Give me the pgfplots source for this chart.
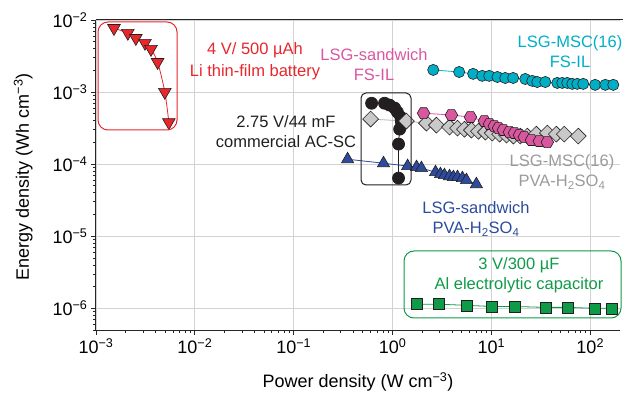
\documentclass[border=0pt]{standalone}
\usepackage{fontspec}
\setmainfont{Liberation Sans}
\usepackage{pgfplots}
\pgfplotsset{compat=1.18}

\definecolor{cRed}{HTML}{E8262C}
\definecolor{cCyan}{HTML}{00AFC6}
\definecolor{cPink}{HTML}{D8579F}
\definecolor{cGray}{HTML}{C9C9C9}
\definecolor{cGrayTxt}{HTML}{9B9B9B}
\definecolor{cBlack}{HTML}{231F20}
\definecolor{cBlue}{HTML}{2C4B9E}
\definecolor{cGreen}{HTML}{0F9A48}
\definecolor{cEdge}{HTML}{231F20}

% filled hexagon mark
\pgfdeclareplotmark{hexagon*}{%
  \pgfpathmoveto{\pgfqpointpolar{0}{\pgfplotmarksize}}%
  \pgfpathlineto{\pgfqpointpolar{60}{\pgfplotmarksize}}%
  \pgfpathlineto{\pgfqpointpolar{120}{\pgfplotmarksize}}%
  \pgfpathlineto{\pgfqpointpolar{180}{\pgfplotmarksize}}%
  \pgfpathlineto{\pgfqpointpolar{240}{\pgfplotmarksize}}%
  \pgfpathlineto{\pgfqpointpolar{300}{\pgfplotmarksize}}%
  \pgfpathclose
  \pgfusepathqfillstroke}

\begin{document}
\begin{tikzpicture}[font=\fontsize{16.5}{20}\selectfont]
\begin{axis}[
  scale only axis,
  width=524pt, height=310pt,
  xmode=log, ymode=log,
  xmin=1e-3, xmax=200,
  ymin=5e-7, ymax=1e-2,
  axis x line*=bottom, axis y line*=left,
  axis line style={line width=1pt, draw=black!85},
  tick align=outside,
  major tick length=5pt, minor tick length=3pt,
  every tick/.style={black!85, line width=0.8pt},
  grid=major,
  grid style={draw=gray!35, line width=0.8pt},
  log number format basis/.code 2 args={#1\textsuperscript{\pgfmathtruncatemacro\e{#2}\ifnum\e<0 −\number-\e\else\e\fi}},
  tick label style={font=\fontsize{18}{20}\selectfont},
  xlabel={Power density (W cm\textsuperscript{−3})},
  ylabel={Energy density (Wh cm\textsuperscript{−3})},
  label style={font=\fontsize{18}{20}\selectfont},
  xlabel style={at={(axis description cs:0.5,-0.168)}, anchor=center},
  ylabel style={at={(axis description cs:-0.139,0.494)}, anchor=center},
  clip=false,
  every axis plot/.append style={line width=0.8pt},
]
% Li thin-film battery
\addplot[cRed, smooth, mark=triangle*, mark size=7.3pt,
  mark options={rotate=180, fill=cRed, draw=cEdge, line width=0.6pt}] coordinates {
  (1.52e-3,7.7e-3) (2.1e-3,6.6e-3) (2.53e-3,5.6e-3) (3.13e-3,4.8e-3)
  (3.6e-3,3.95e-3) (4.2e-3,2.6e-3) (4.97e-3,1.0e-3) (5.46e-3,3.8e-4)
};
% LSG-MSC(16) FS-IL
\addplot[cCyan, mark=*, mark size=5.6pt,
  mark options={fill=cCyan, draw=cEdge, line width=0.6pt}] coordinates {
  (2.58,2.03e-3) (4.72,1.90e-3) (6.54,1.79e-3) (8.07,1.68e-3) (9.50,1.68e-3)
  (11.5,1.62e-3) (13.8,1.57e-3) (16.6,1.57e-3) (22.0,1.52e-3) (25.9,1.43e-3)
  (29.1,1.38e-3) (35.1,1.38e-3) (46.4,1.34e-3) (52.1,1.34e-3) (58.5,1.34e-3)
  (65.8,1.30e-3) (73.9,1.30e-3) (84.9,1.30e-3) (112,1.26e-3) (142,1.26e-3)
  (171,1.26e-3)
};
% commercial AC-SC
\addplot[cBlack, mark=*, mark size=6pt,
  mark options={fill=cBlack, draw=cBlack}] coordinates {
  (0.614,7.0e-4) (0.83,7.0e-4) (0.933,6.6e-4) (1.05,6.0e-4) (1.12,5.27e-4)
  (1.21,4.5e-4) (1.23,3.83e-4) (1.18,3.06e-4) (1.15,1.9e-4) (1.15,6.4e-5)
};
% LSG-MSC(16) PVA-H2SO4
\addplot[gray!60, mark=square*, mark size=5.6pt,
  mark options={rotate=45, fill=cGray, draw=cEdge, line width=0.6pt}] coordinates {
  (0.60,4.22e-4) (1.38,3.96e-4) (2.20,3.71e-4) (2.78,3.48e-4) (3.77,3.27e-4)
  (4.54,3.16e-4) (5.34,3.05e-4) (6.28,2.97e-4) (7.39,2.86e-4) (8.70,2.78e-4)
  (10.2,2.70e-4) (12.1,2.61e-4) (14.2,2.53e-4) (16.7,2.45e-4) (19.6,2.45e-4)
  (23.1,2.45e-4) (28.5,2.61e-4) (36.8,2.70e-4) (45.4,2.61e-4) (54.6,2.61e-4)
  (75.7,2.45e-4)
};
% LSG-sandwich FS-IL
\addplot[cPink, mark=hexagon*, mark size=6.3pt,
  mark options={fill=cPink, draw=cEdge, line width=0.6pt}] coordinates {
  (2.06,5.1e-4) (3.94,4.8e-4) (6.14,4.5e-4) (8.49,3.96e-4) (9.55,3.6e-4)
  (10.7,3.37e-4) (11.8,3.16e-4) (13.2,2.97e-4) (15.2,2.78e-4) (17.1,2.7e-4)
  (19.2,2.53e-4) (21.5,2.37e-4) (25.4,2.16e-4) (30.5,2.09e-4) (36.8,2.02e-4)
};
% LSG-sandwich PVA-H2SO4
\addplot[cBlue, mark=triangle*, mark size=7pt,
  mark options={fill=cBlue, draw=cEdge, line width=0.6pt}] coordinates {
  (0.351,1.17e-4) (0.81,1.03e-4) (1.42,9.4e-5) (1.75,9.1e-5) (1.96,8.8e-5)
  (2.72,7.74e-5) (3.05,7.26e-5) (3.35,7.03e-5) (3.77,6.8e-5) (4.13,6.6e-5)
  (4.54,6.6e-5) (5.09,6.4e-5) (5.59,6.0e-5) (7.05,5.27e-5)
};
% Al electrolytic capacitor
\addplot[cGreen, mark=square*, mark size=5.5pt,
  mark options={fill=cGreen, draw=cEdge, line width=0.6pt}] coordinates {
  (1.75,1.14e-6) (2.92,1.14e-6) (5.59,1.10e-6) (10.2,1.06e-6) (17.1,1.06e-6)
  (35.9,1.03e-6) (58.6,1.03e-6) (110,1.0e-6) (167,1.0e-6)
};
\end{axis}
% top frame line
\draw[line width=1pt, black!85] (0,310pt) -- (527pt,310pt);
% group boxes
\draw[cRed, line width=1pt, rounded corners=10pt] (2pt,308pt) rectangle (81pt,200pt);
\draw[cBlack, line width=1pt, rounded corners=5pt] (265pt,237pt) rectangle (315pt,145pt);
\draw[cGreen, line width=1pt, rounded corners=10pt] (308pt,79pt) rectangle (525pt,12pt);
% labels
\node[cRed, align=center] at (159pt,269pt) {4 V/ 500 µAh\\[2pt]Li thin-film battery};
\node[cPink, align=center] at (278pt,265pt) {LSG-sandwich\\FS-IL};
\node[cCyan, align=center] at (474pt,278pt) {LSG-MSC(16)\\FS-IL};
\node[cBlack, align=center] at (190pt,198pt) {2.75 V/44 mF\\commercial AC-SC};
\node[cGrayTxt, align=center] at (466pt,158pt) {LSG-MSC(16)\\PVA-H\textsubscript{2}SO\textsubscript{4}};
\node[cBlue, align=center] at (380pt,111pt) {LSG-sandwich\\PVA-H\textsubscript{2}SO\textsubscript{4}};
\node[cGreen, align=center] at (423pt,55pt) {3 V/300 µF\\Al electrolytic capacitor};
\pgfresetboundingbox
\path (-96pt,-71pt) rectangle (527pt,330pt);
\end{tikzpicture}
\end{document}
